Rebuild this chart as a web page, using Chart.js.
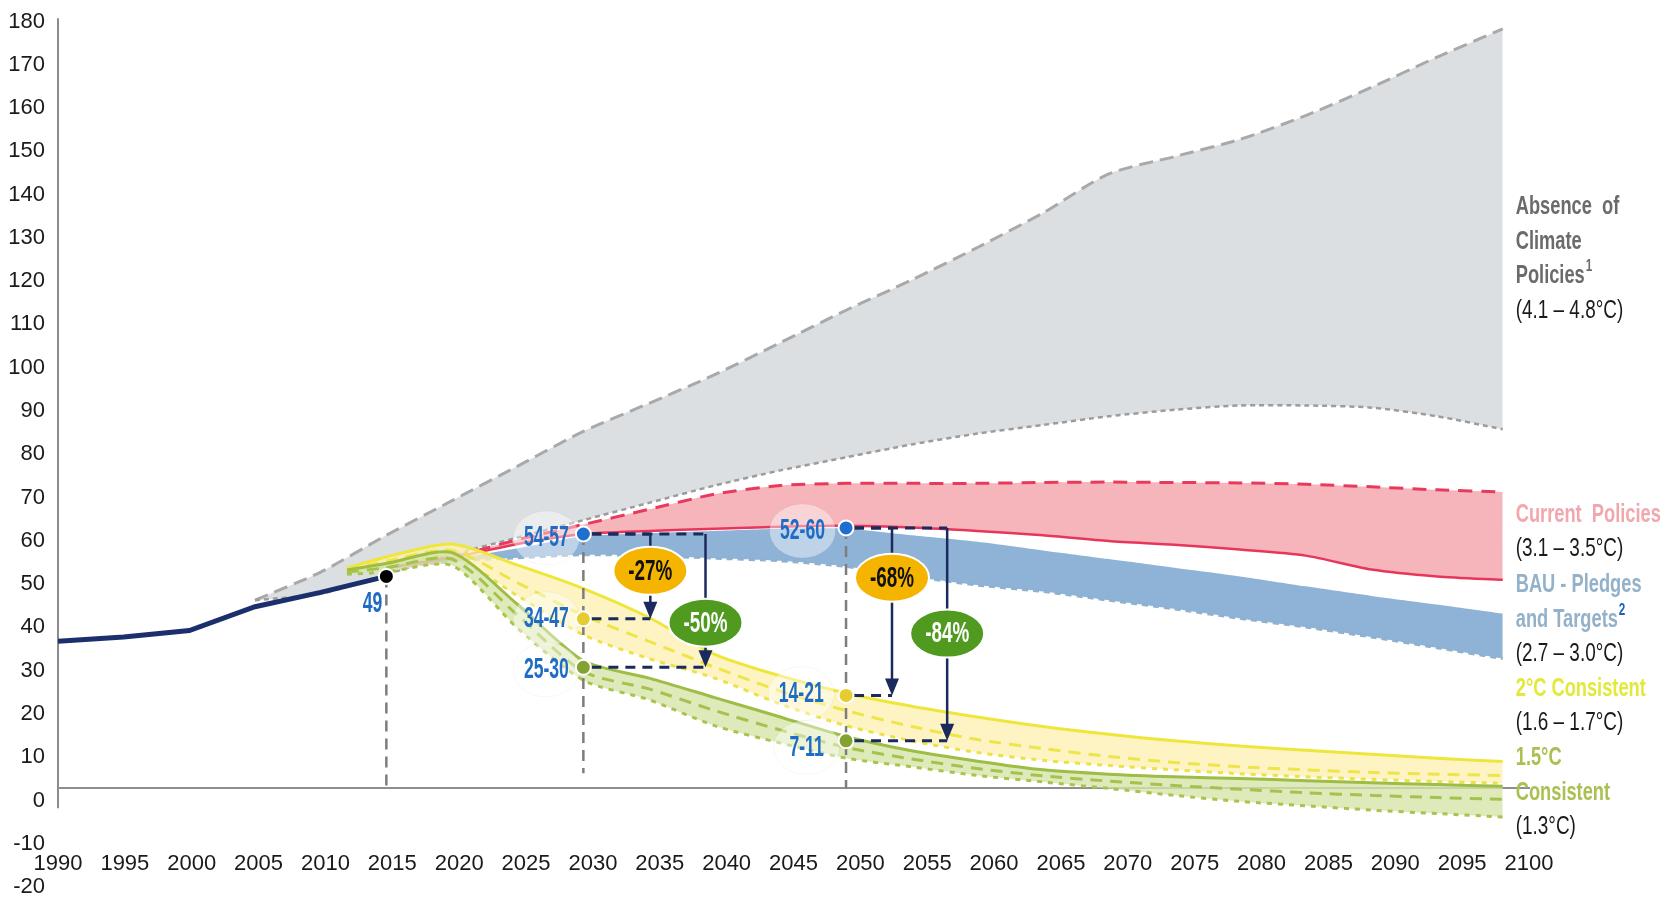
<!DOCTYPE html>
<html>
<head>
<meta charset="utf-8">
<title>Emission pathways</title>
<script src="https://cdn.jsdelivr.net/npm/chart.js@4.4.1/dist/chart.umd.min.js"></script>
<style>
  html, body { margin: 0; padding: 0; background: #fff; }
  #wrap { width: 1664px; height: 899px; position: relative; }
</style>
</head>
<body>
<div id="wrap"><canvas id="chart"></canvas></div>
<script>
const FONT = '"Liberation Sans Narrow", "Liberation Sans", Arial, sans-serif';

// historical emissions
const histYears = [1990, 1995, 2000, 2005, 2010, 2015];
const histValues = [34, 35, 36.5, 42, 45.3, 49];

// absence of climate policies (grey band)
const absYears = [2005, 2010, 2015, 2020, 2025, 2030, 2035, 2040, 2045, 2050, 2055, 2060, 2065, 2070, 2075, 2080, 2085, 2090, 2095, 2100];
const absUpper = [43.5, 50, 58.5, 66.5, 74.5, 82.5, 89, 95.6, 103, 110.5, 117.5, 125, 133, 142, 146, 150, 155.5, 162, 169, 175.5];
const absLower = [43.5, 45, 49.5, 54, 58, 62, 66, 70, 73.5, 76.5, 79.5, 82, 84, 86, 87.5, 88.5, 88.5, 88, 86, 83];

// current policies (pink) and BAU pledges (blue)
const policyYears = [2015, 2020, 2025, 2030, 2035, 2040, 2045, 2050, 2055, 2060, 2065, 2070, 2075, 2080, 2085, 2090, 2095, 2100];
const curUpper = [51, 53.5, 57.5, 61, 64.5, 68, 70, 70.5, 70.5, 70.5, 70.7, 70.8, 70.7, 70.6, 70.3, 69.7, 69, 68.5];
const curLower = [51, 53.3, 56.5, 58.8, 59.5, 60, 60.5, 60.7, 60.3, 59.5, 58.5, 57.2, 56.3, 55.2, 53.8, 50.6, 49, 48.2];
const bauUpper = [51, 53, 55.5, 58.3, 59, 59.5, 60, 60, 58.5, 57, 55, 53, 51, 49, 46.7, 44.5, 42.5, 40.4];
const bauLower = [51, 52.5, 53.3, 54, 53.8, 53.2, 52.6, 51.3, 49, 47, 45.5, 43.5, 41.5, 39.3, 37.3, 35, 32.5, 30];

// 2°C (yellow) and 1.5°C (green) consistent pathways
const pathYears = [2012, 2015, 2020, 2025, 2030, 2035, 2040, 2045, 2050, 2055, 2060, 2065, 2070, 2075, 2080, 2085, 2090, 2095, 2100];
const twoUpper = [51, 53.5, 56.5, 51.6, 46.2, 39.5, 31, 26, 22, 19, 16.5, 14.3, 12.5, 11, 9.8, 8.8, 7.9, 7, 6.2];
const twoMid = [50.5, 52.5, 55, 47.5, 40, 34, 28, 22.5, 18, 14.3, 11.3, 9.2, 7.4, 6, 5, 4.3, 3.7, 3.3, 3];
const twoLower = [50, 51.5, 53.5, 44.5, 35.5, 30, 25.5, 19.5, 14.5, 11, 8.3, 6.5, 5.3, 4.3, 3.4, 2.7, 2.1, 1.6, 1.2];
const fiveUpper = [50.5, 52, 54.5, 42.5, 29.5, 25.5, 21, 16.5, 12, 8.7, 6.3, 4.3, 3.3, 2.7, 2.3, 1.8, 1.3, 0.9, 0.5];
const fiveMid = [50, 51, 53, 40, 27, 23, 18, 13.5, 9.5, 6.8, 4.6, 2.9, 1.7, 0.7, -0.2, -1, -1.6, -2.1, -2.5];
const fiveLower = [49.5, 50, 51.5, 37, 25, 20.5, 14.5, 10.5, 7, 5, 3, 1.5, 0, -1.6, -3, -4, -5, -5.8, -6.6];

// highlighted points and their labels
const markerYears = [2015, 2030, 2030, 2030, 2050, 2050, 2050];
const markerValues = [49, 58.8, 39.2, 28, 60.2, 21.5, 11];
const markerLabels = ['49', '54-57', '34-47', '25-30', '52-60', '14-21', '7-11'];
const labelYears = [2014.7, 2028.9, 2028.9, 2028.9, 2048.4, 2048.3, 2048.3];
const labelValues = [42.7, 57.9, 39.2, 27.4, 59.5, 21.9, 9.5];

// reductions vs BAU
const cutLabels = ['-27%', '-50%', '-68%', '-84%'];
const cutBaseYears = [2030, 2030, 2050, 2050];
const cutFrom = [58.8, 58.8, 60.2, 60.2];
const cutTo = [39.2, 28, 21.5, 11];
const cutYears = [2035.1, 2039.3, 2053.5, 2057.7];
const cutBubbleValues = [50.3, 38.3, 48.7, 35.8];

// vertical reference lines
const refYears = [2015, 2030, 2050];
const refTop = [49, 58.8, 60.2];
const refBottom = [0, 3.5, 0];

// right hand notes
const noteLines = ['Absence  of', 'Climate', 'Policies', '(4.1 – 4.8°C)', 'Current  Policies', '(3.1 – 3.5°C)', 'BAU - Pledges', 'and Targets', '(2.7 – 3.0°C)', '2°C Consistent', '(1.6 – 1.7°C)', '1.5°C', 'Consistent', '(1.3°C)'];
const noteSups = ['', '', '1', '', '', '', '', '2', '', '', '', '', '', ''];
const noteValues = [134.4, 126.3, 118.5, 110.4, 63.3, 55.4, 47.1, 39.0, 31.2, 23.1, 15.1, 7.0, -1.1, -8.9];
const noteKinds = ['abs', 'abs', 'abs', 'paren', 'cur', 'paren', 'bau', 'bau', 'paren', 'two', 'paren', 'five', 'five', 'paren'];

const markerColors = ['#000000', '#1f6fd0', '#e6cc2e', '#84a232', '#1f6fd0', '#e6cc2e', '#84a232'];
const cutColors = ['#f4b400', '#4f9a1f', '#f4b400', '#4f9a1f'];
const cutTextColors = ['#111111', '#ffffff', '#111111', '#ffffff'];
const noteColors = { abs: '#6b6b6b', paren: '#1a1a1a', cur: '#f2a7af', bau: '#93b1c9', two: '#e2e93a', five: '#a8c152' };

function pts(years, values) {
  return years.map((yr, i) => ({ x: yr, y: values[i] }));
}

function lineSet(years, values, opts) {
  return Object.assign({
    type: 'line',
    data: pts(years, values),
    pointRadius: 0,
    pointHoverRadius: 0,
    fill: false,
    tension: 0.25
  }, opts);
}

const HIST_INDEX = 12;

const datasets = [
  lineSet(absYears, absUpper, { borderColor: '#a9a9a9', borderWidth: 3, borderDash: [14, 7], fill: '+1', backgroundColor: '#dcdfe1', order: 30 }),
  lineSet(absYears, absLower, { borderColor: '#9c9c9c', borderWidth: 2.5, borderDash: [5, 4], order: 29 }),
  lineSet(policyYears, curUpper, { borderColor: '#e83a5c', borderWidth: 3, borderDash: [14, 9], fill: '+1', backgroundColor: '#f5b5ba', order: 28 }),
  lineSet(policyYears, curLower, { borderColor: '#e8365a', borderWidth: 2.5, order: 25 }),
  lineSet(policyYears, bauUpper, { borderWidth: 0, borderColor: 'rgba(0,0,0,0)', fill: '+1', backgroundColor: '#8fb3d6', order: 27 }),
  lineSet(policyYears, bauLower, { borderColor: '#8fb0cf', borderWidth: 3, borderDash: [6, 5], order: 26 }),
  lineSet(pathYears, twoUpper, { borderColor: '#efe63c', borderWidth: 3, fill: '+1', backgroundColor: 'rgba(252, 240, 180, 0.8)', order: 24 }),
  lineSet(pathYears, twoLower, { borderColor: '#ebe24a', borderWidth: 3, borderDash: [5, 6], order: 23 }),
  lineSet(pathYears, twoMid, { borderColor: '#ede54a', borderWidth: 3, borderDash: [12, 8], order: 22 }),
  lineSet(pathYears, fiveUpper, { borderColor: '#9dbd45', borderWidth: 3, fill: '+1', backgroundColor: 'rgba(214, 229, 168, 0.8)', order: 21 }),
  lineSet(pathYears, fiveLower, { borderColor: '#a9c34e', borderWidth: 3, borderDash: [5, 6], order: 20 }),
  lineSet(pathYears, fiveMid, { borderColor: '#a6c24e', borderWidth: 3, borderDash: [12, 8], order: 19 }),
  lineSet(histYears, histValues, { borderColor: '#1c2f6d', borderWidth: 5, tension: 0, order: 2 }),
  {
    type: 'scatter',
    data: pts(markerYears, markerValues),
    pointRadius: 7.5,
    pointHoverRadius: 7.5,
    pointBackgroundColor: markerColors,
    pointBorderColor: '#ffffff',
    pointBorderWidth: 2,
    showLine: false,
    order: 1
  }
];

// text squeezed sideways and stretched upwards, like the narrow font of the original
function drawText(ctx, text, x, y, size, color, bold, align, sx, sy) {
  ctx.save();
  ctx.font = (bold ? 'bold ' : '') + size + 'px ' + FONT;
  ctx.fillStyle = color;
  ctx.textAlign = align;
  ctx.textBaseline = 'middle';
  ctx.translate(x, y);
  ctx.scale(sx, sy);
  ctx.fillText(text, 0, 0);
  const w = ctx.measureText(text).width * sx;
  ctx.restore();
  return w;
}

function textWidth(ctx, text, size, bold) {
  ctx.save();
  ctx.font = (bold ? 'bold ' : '') + size + 'px ' + FONT;
  const w = ctx.measureText(text).width;
  ctx.restore();
  return w;
}

const overlay = {
  id: 'overlay',
  beforeDatasetsDraw(chart) {
    const { ctx, chartArea } = chart;
    const y = chart.scales.y;
    ctx.save();
    ctx.strokeStyle = '#8c8c8c';
    ctx.lineWidth = 2;
    ctx.beginPath();
    ctx.moveTo(chartArea.left, y.getPixelForValue(178));
    ctx.lineTo(chartArea.left, y.getPixelForValue(-4.6));
    ctx.stroke();
    ctx.restore();
  },
  afterDatasetDraw(chart, args) {
    if (args.index !== HIST_INDEX) return;
    const { ctx } = chart;
    const x = chart.scales.x, y = chart.scales.y;

    // soft white halos behind the value labels
    ctx.save();
    markerLabels.forEach((txt, i) => {
      if (i === 0) return;
      const w = textWidth(ctx, txt, 22, true) * 0.8;
      const cx = x.getPixelForValue(labelYears[i]) - w / 2;
      const cy = y.getPixelForValue(labelValues[i]);
      ctx.beginPath();
      ctx.ellipse(cx, cy, 33, 27, 0, 0, Math.PI * 2);
      ctx.fillStyle = 'rgba(255,255,255,0.42)';
      ctx.fill();
      ctx.strokeStyle = 'rgba(0,0,0,0.03)';
      ctx.lineWidth = 1;
      ctx.stroke();
    });
    ctx.restore();

    // grey vertical reference lines
    ctx.save();
    ctx.strokeStyle = '#7d7d7d';
    ctx.lineWidth = 2.5;
    ctx.setLineDash([11, 7]);
    refYears.forEach((yr, i) => {
      const px = x.getPixelForValue(yr);
      ctx.beginPath();
      ctx.moveTo(px, y.getPixelForValue(refTop[i]));
      ctx.lineTo(px, y.getPixelForValue(refBottom[i]));
      ctx.stroke();
    });
    ctx.restore();

    // navy dashed connectors
    ctx.save();
    ctx.strokeStyle = '#1b2a5c';
    ctx.lineWidth = 3;
    ctx.setLineDash([10, 7]);
    cutLabels.forEach((_, i) => {
      const x0 = x.getPixelForValue(cutBaseYears[i]) + 8;
      const x1 = x.getPixelForValue(cutYears[i]);
      [cutFrom[i], cutTo[i]].forEach(v => {
        const py = y.getPixelForValue(v);
        ctx.beginPath();
        ctx.moveTo(x0, py);
        ctx.lineTo(x1, py);
        ctx.stroke();
      });
    });
    ctx.restore();
  },
  afterDatasetsDraw(chart) {
    const { ctx } = chart;
    const x = chart.scales.x, y = chart.scales.y;

    // arrows and reduction bubbles
    cutLabels.forEach((txt, i) => {
      const px = x.getPixelForValue(cutYears[i]);
      const y1 = y.getPixelForValue(cutFrom[i]);
      const y2 = y.getPixelForValue(cutTo[i]);
      ctx.save();
      ctx.strokeStyle = '#1b2a5c';
      ctx.fillStyle = '#1b2a5c';
      ctx.lineWidth = 2.5;
      ctx.beginPath();
      ctx.moveTo(px, y1);
      ctx.lineTo(px, y2 - 12);
      ctx.stroke();
      ctx.beginPath();
      ctx.moveTo(px - 7, y2 - 17);
      ctx.lineTo(px + 7, y2 - 17);
      ctx.lineTo(px, y2);
      ctx.closePath();
      ctx.fill();

      const by = y.getPixelForValue(cutBubbleValues[i]);
      ctx.beginPath();
      ctx.ellipse(px, by, 37, 24, 0, 0, Math.PI * 2);
      ctx.fillStyle = cutColors[i];
      ctx.fill();
      ctx.strokeStyle = '#ffffff';
      ctx.lineWidth = 2;
      ctx.stroke();
      ctx.restore();
      drawText(ctx, txt, px, by + 1, 23, cutTextColors[i], true, 'center', 0.82, 1.25);
    });

    // value labels
    markerLabels.forEach((txt, i) => {
      drawText(ctx, txt, x.getPixelForValue(labelYears[i]), y.getPixelForValue(labelValues[i]), 22, '#1f6cc4', true, 'right', 0.8, 1.35);
    });

    // notes on the right
    const nx = x.getPixelForValue(2100) + 13;
    noteLines.forEach((txt, i) => {
      const kind = noteKinds[i];
      const bold = kind !== 'paren';
      const py = y.getPixelForValue(noteValues[i]);
      const sx = bold ? 0.83 : 0.86;
      const w = drawText(ctx, txt, nx, py, 22, noteColors[kind], bold, 'left', sx, 1.2);
      if (noteSups[i]) {
        const supColor = kind === 'bau' ? '#1f5fc0' : noteColors[kind];
        drawText(ctx, noteSups[i], nx + w + 1, py - 9, 13, supColor, true, 'left', 0.9, 1.2);
      }
    });
  }
};

new Chart(document.getElementById('chart'), {
  type: 'line',
  data: { datasets: datasets },
  options: {
    responsive: true,
    maintainAspectRatio: false,
    animation: false,
    layout: { padding: { left: 0, right: 135, top: 8, bottom: 24 } },
    plugins: {
      legend: { display: false },
      tooltip: { enabled: false }
    },
    scales: {
      x: { type: 'linear', min: 1990, max: 2102, display: false },
      xt: {
        type: 'linear',
        axis: 'x',
        position: { y: 0 },
        min: 1990,
        max: 2100,
        grid: { display: false, drawTicks: false },
        border: { display: true, color: '#8e8e8e', width: 2 },
        ticks: {
          stepSize: 5,
          padding: 62,
          autoSkip: false,
          maxRotation: 0,
          color: '#1a1a1a',
          font: { family: FONT, size: 22 },
          callback: v => String(v)
        },
        afterFit(scale) {
          scale.paddingLeft = 0;
          scale.paddingRight = 0;
        }
      },
      y: {
        type: 'linear',
        position: 'left',
        min: -20,
        max: 180,
        grid: { display: false, drawTicks: false },
        border: { display: false },
        ticks: {
          stepSize: 10,
          padding: 13,
          labelOffset: 12,
          color: '#1a1a1a',
          font: { family: FONT, size: 22 },
          callback: v => String(v)
        },
        afterFit(scale) {
          scale.width = 58;
          scale.paddingTop = 0;
          scale.paddingBottom = 0;
        }
      }
    }
  },
  plugins: [overlay]
});
</script>
</body>
</html>
